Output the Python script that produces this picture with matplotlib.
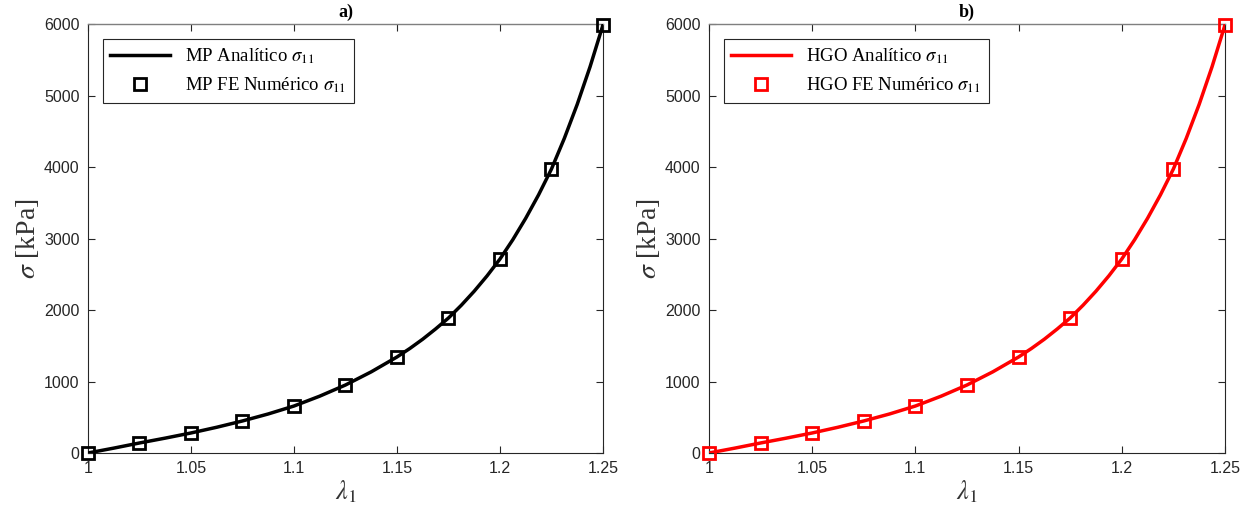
"""Stress-stretch curves: MP and HGO, analytic vs FE."""

import matplotlib
matplotlib.use('Agg')
import matplotlib.pyplot as plt

# FE numerical points
stretch_fe = [1.0, 1.025, 1.05, 1.075, 1.1, 1.125, 1.15, 1.175, 1.2, 1.225, 1.25]
sigma_fe = [0, 140, 280, 448, 657, 951, 1343, 1888, 2713, 3972, 5986]

# analytic curve
stretch_an = [1.0, 1.0125, 1.025, 1.0375, 1.05, 1.0625, 1.075, 1.0875, 1.1,
              1.1125, 1.125, 1.1375, 1.15, 1.15625, 1.1625, 1.16875, 1.175,
              1.18125, 1.1875, 1.19375, 1.2, 1.20625, 1.2125, 1.21875,
              1.225, 1.23125, 1.2375, 1.24375, 1.25]
sigma_an = [0, 68, 140, 208, 280, 360, 448, 546, 657, 795, 951, 1135, 1343,
            1462, 1592, 1735, 1888, 2067, 2263, 2478, 2713, 2984, 3283,
            3611, 3972, 4401, 4876, 5403, 5986]

x_ticks = [1.0, 1.05, 1.1, 1.15, 1.2, 1.25]
x_tick_labels = ['1', '1.05', '1.1', '1.15', '1.2', '1.25']
y_ticks = [0, 1000, 2000, 3000, 4000, 5000, 6000]

plt.rcParams['mathtext.fontset'] = 'stix'
SERIF = 'Liberation Serif'
SANS = 'Liberation Sans'
AXIS_COLOR = '#262626'


def draw_panel(ax, color, name, title):
    ax.plot(stretch_fe, sigma_fe, 's', ms=9, mfc='none', mec=color,
            mew=2.0, label=name + r' FE Numérico $\sigma_{11}$', zorder=4,
            clip_on=False)
    ax.plot(stretch_an, sigma_an, '-', color=color, lw=2.5,
            label=name + r' Analítico $\sigma_{11}$', zorder=3)
    ax.set_xlim(1.0, 1.25)
    ax.set_ylim(0, 6000)
    ax.set_xticks(x_ticks)
    ax.set_xticklabels(x_tick_labels)
    ax.set_yticks(y_ticks)
    ax.tick_params(direction='in', top=True, right=True, length=5,
                   width=0.8, colors=AXIS_COLOR, labelsize=11.5, pad=6)
    for lab in ax.get_xticklabels() + ax.get_yticklabels():
        lab.set_family(SANS)
    for side in ['left', 'bottom', 'right']:
        ax.spines[side].set_color(AXIS_COLOR)
        ax.spines[side].set_linewidth(0.8)
    ax.spines['top'].set_color('#7f7f7f')
    ax.spines['top'].set_linewidth(1.0)
    ax.set_xlabel(r'$\lambda_1$', fontsize=19, color='#333333', labelpad=2)
    ax.set_ylabel(r'$\sigma$ [kPa]', fontsize=20, family=SERIF,
                  color='#333333', labelpad=2)
    ax.set_title(title, fontsize=13, family=SERIF, fontweight='bold', pad=5)
    handles, labels = ax.get_legend_handles_labels()
    leg = ax.legend(handles[::-1], labels[::-1], loc='upper left',
                    prop={'family': SERIF, 'size': 13.5}, fancybox=False,
                    edgecolor=AXIS_COLOR, framealpha=1, handlelength=3.2,
                    borderaxespad=0.8, labelspacing=0.5)
    leg.get_frame().set_linewidth(0.8)


def main():
    fig = plt.figure(figsize=(12.46, 5.18), dpi=100)
    ax1 = fig.add_axes([0.0706, 0.1255, 0.4133, 0.828])
    ax2 = fig.add_axes([0.569, 0.1255, 0.4141, 0.828])
    draw_panel(ax1, 'black', 'MP', 'a)')
    draw_panel(ax2, 'red', 'HGO', 'b)')
    fig.savefig('out.png', dpi=100)


if __name__ == '__main__':
    main()
